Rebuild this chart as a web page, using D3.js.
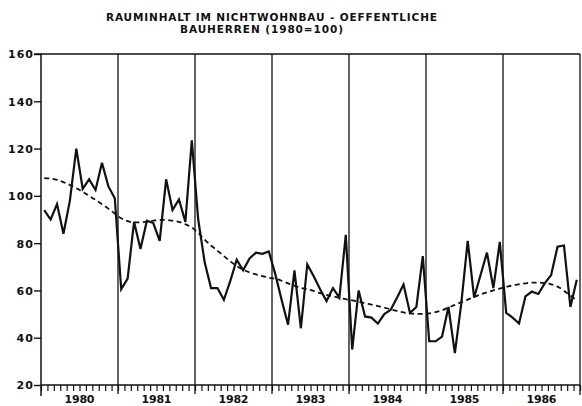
<!DOCTYPE html>
<html><head><meta charset="utf-8">
<script src="https://cdn.jsdelivr.net/npm/d3@7"></script>
<style>body{margin:0;background:#fff}svg{display:block}text{font-family:"DejaVu Sans",sans-serif;font-weight:bold;fill:#111}</style>
</head><body><svg id="c" width="582" height="406"></svg>
<script>
const titleLines = ["RAUMINHALT IM NICHTWOHNBAU - OEFFENTLICHE", "BAUHERREN (1980=100)"];
const years = ["1980","1981","1982","1983","1984","1985","1986"];
const yTicks = [20,40,60,80,100,120,140,160];
// monthly index values, Jan 1980 .. Dec 1986
const values = [
 94, 90, 96.5, 84, 98, 120, 103, 107, 102.5, 114, 104, 99,
 60.5, 65, 89, 77.5, 89.5, 88.5, 81, 107, 94, 98.5, 89, 123.5,
 90, 72, 61, 61, 56, 64, 73, 68.5, 73.5, 76, 75.5, 76.5,
 67, 56, 45.5, 68.5, 44, 71, 66, 60.5, 55.5, 61, 57, 83.5,
 35, 60, 49, 48.5, 46, 50, 51.8, 57, 62.5, 50.5, 53, 74.5,
 38.5, 38.5, 40.5, 53, 33.5, 54.5, 81, 57, 66.5, 76, 61, 80.5,
 50.5, 48.5, 46, 57.5, 59.5, 58.5, 63, 66.5, 78.5, 79, 53, 64.5
];
// trend (dashed) values, same months
const trend = [
 107.5,107.3,106.8,105.8,104.6,103.2,101.7,100,98.3,96.5,94.6,92.5,
 90.5,89.3,88.8,88.8,89.1,89.5,89.8,89.8,89.5,89,88,86.6,
 84.3,81.5,79,76.8,74.5,72.3,70.3,68.8,67.6,66.8,66.1,65.4,
 64.9,64.1,63,62,61.1,60.5,59.8,58.9,58.1,57.5,56.9,56.3,
 55.8,55.2,54.6,54,53.4,52.7,52,51.3,50.7,50.3,50.1,50.1,
 50.3,50.8,51.6,52.7,53.9,55,56.1,57.3,58.3,59.2,60,60.8,
 61.5,62.1,62.6,63,63.3,63.3,63.1,62.6,61.6,59.9,57.8,55.8
];

const svg = d3.select("#c");
const L = 41, R = 580, T = 54, B = 385;
const nMonths = years.length * 12;
const x = d3.scaleLinear().domain([0, nMonths]).range([L, R]);
const y = d3.scaleLinear().domain([20, 160]).range([B, T]);

// title
const tl = [{t:titleLines[0], x:106, y:21, w:331},{t:titleLines[1], x:180, y:33, w:163}];
svg.selectAll("text.title").data(tl).enter().append("text").attr("class","title")
  .attr("x",d=>d.x).attr("y",d=>d.y).attr("font-size",10.5).attr("font-family","DejaVu Sans Condensed, DejaVu Sans")
  .attr("textLength",d=>d.w).attr("lengthAdjust","spacing").text(d=>d.t);

// frame
svg.append("line").attr("x1",L).attr("x2",R).attr("y1",T).attr("y2",T).attr("stroke","#111").attr("stroke-width",1.3);
svg.append("line").attr("x1",R).attr("x2",R).attr("y1",T).attr("y2",B+10).attr("stroke","#111").attr("stroke-width",1.3);

// year separators
svg.selectAll("line.yr").data(d3.range(1, years.length)).enter().append("line")
  .attr("x1",d=>x(d*12)).attr("x2",d=>x(d*12)).attr("y1",T).attr("y2",B+9)
  .attr("stroke","#111").attr("stroke-width",1.3);

// y axis
const yAxis = d3.axisLeft(y).tickValues(yTicks).tickSize(7).tickPadding(1).tickFormat(d3.format("d"));
const ga = svg.append("g").attr("transform",`translate(${L},0)`).call(yAxis);
ga.select(".domain").attr("stroke","#111").attr("stroke-width",1.5).attr("d",`M-7,${T}H0V${B+11}`);
ga.selectAll(".tick line").attr("stroke","#111").attr("stroke-width",1.4);
ga.selectAll(".tick text").attr("font-size",11).attr("font-family","DejaVu Sans Condensed, DejaVu Sans").attr("font-weight","bold")
  .attr("fill","#111").attr("dy","0.36em")
  .attr("textLength",d=>String(d).length*8.3).attr("lengthAdjust","spacing");

// x axis with monthly ticks
const xAxis = d3.axisBottom(x).tickValues(d3.range(0, nMonths+1)).tickSize(6).tickFormat("");
const gx = svg.append("g").attr("transform",`translate(0,${B})`).call(xAxis);
gx.select(".domain").attr("stroke","#111").attr("stroke-width",1.6).attr("d",`M${L},0H${R}`);
gx.selectAll(".tick line").attr("stroke","#111").attr("stroke-width",1.2);

// year labels
svg.selectAll("text.ylab").data(years).enter().append("text").attr("class","ylab")
  .attr("x",(d,i)=>x(i*12+6)-15).attr("y",403).attr("font-size",11).attr("font-family","DejaVu Sans Condensed, DejaVu Sans")
  .attr("textLength",30).attr("lengthAdjust","spacing").text(d=>d);

// trend
const ln = d3.line().x((d,i)=>x(i+0.5)).y(d=>y(d));
svg.append("path").datum(trend).attr("d",d3.line().x((d,i)=>x(i+0.5)).y(d=>y(d)).curve(d3.curveMonotoneX))
  .attr("fill","none").attr("stroke","#111").attr("stroke-width",1.8).attr("stroke-dasharray","5,3.5");
// values
svg.append("path").datum(values).attr("d",ln)
  .attr("fill","none").attr("stroke","#111").attr("stroke-width",2.2).attr("stroke-linejoin","miter");
</script></body></html>
